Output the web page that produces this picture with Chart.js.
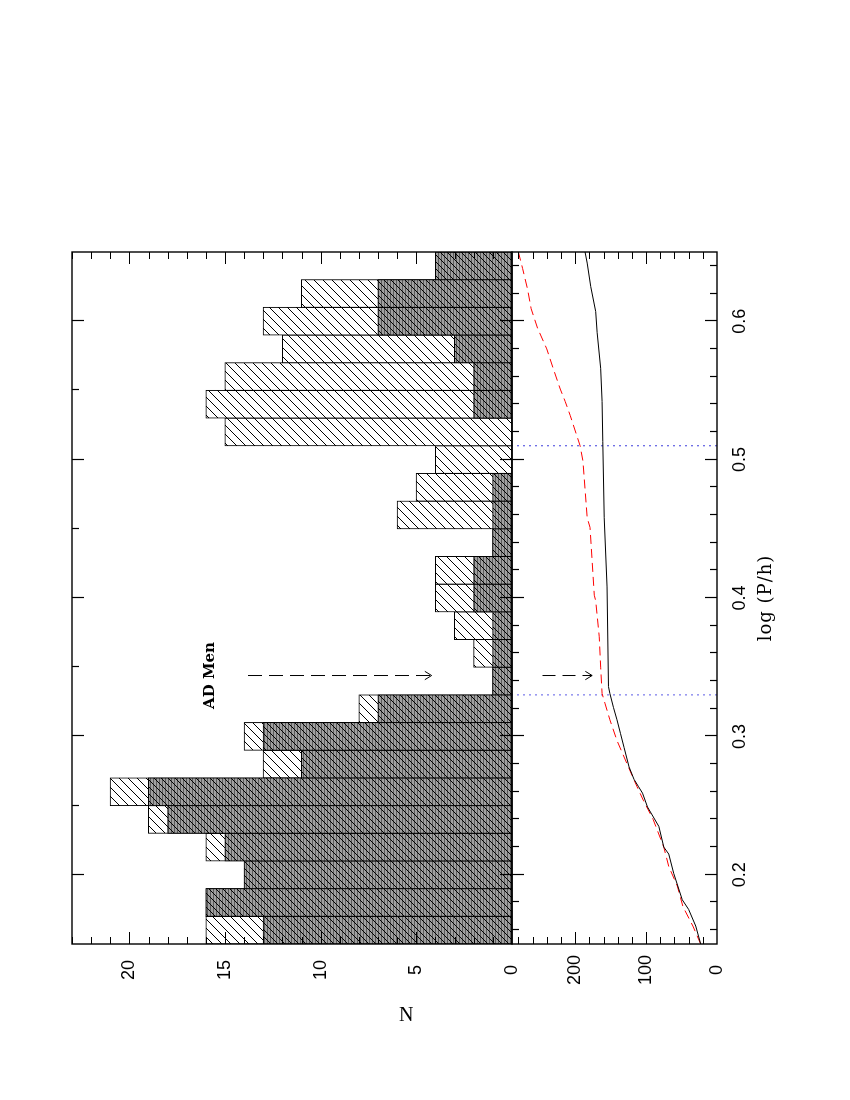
<!DOCTYPE html>
<html>
<head>
<meta charset="utf-8">
<script src="https://cdn.jsdelivr.net/npm/chart.js@4.4.1/dist/chart.umd.min.js"></script>
<style>
  html, body { margin: 0; padding: 0; background: #fff; overflow: hidden; width: 850px; height: 1100px; }
  /* the figure is drawn landscape and turned a quarter, as in the printed page */
  #page { position: absolute; left: 0; top: 0; width: 1100px; height: 850px;
          transform-origin: 0 0; transform: translate(0, 1100px) rotate(-90deg); }
  #xtitle { position: absolute; left: 156px; width: 692px; top: 754px; text-align: center;
            font: 18px "DejaVu Serif", serif; letter-spacing: 1px; color: #000; }
  #ntitle { position: absolute; left: 399px; top: 1004px; font: 20px/20px "Liberation Serif", serif; color: #000; }
</style>
</head>
<body>
<div id="page">
  <canvas id="fig" width="1100" height="850"></canvas>
  <div id="xtitle">log (P/h)</div>
</div>
<div id="ntitle">N</div>
<script>
// histogram: bins of 0.02 in log(P/h), centres
var binCentres = [0.16, 0.18, 0.20, 0.22, 0.24, 0.26, 0.28, 0.30, 0.32, 0.34, 0.36, 0.38, 0.40,
                  0.42, 0.44, 0.46, 0.48, 0.50, 0.52, 0.54, 0.56, 0.58, 0.60, 0.62, 0.64];
var nAll  = [16, 16, 14, 16, 19, 21, 13, 14, 8, 1, 2, 3, 4, 4, 1, 6, 5, 4, 15, 16, 15, 12, 13, 11, 4];
var nDark = [13, 16, 14, 15, 18, 19, 11, 13, 7, 1, 1, 1, 2, 2, 1, 1, 1, 0, 0, 2, 2, 3, 7, 7, 4];

// cumulative counts (lower panel)
var cumBlackP = [0.150, 0.163, 0.175, 0.182, 0.201, 0.215, 0.220, 0.235, 0.249, 0.259, 0.264, 0.269, 0.278,
                 0.292, 0.302, 0.312, 0.321, 0.331, 0.336, 0.408, 0.458, 0.513, 0.542, 0.566, 0.592,
                 0.607, 0.625, 0.642, 0.650];
var cumBlack  = [23, 30, 40, 49, 61, 68, 75, 82, 98, 105, 111, 117, 124,
                 131, 136, 141, 146, 151, 153, 155, 159, 161, 162, 164, 169,
                 171, 178, 183, 186];
var cumRedP = [0.150, 0.163, 0.177, 0.192, 0.206, 0.220, 0.240, 0.254, 0.264, 0.278, 0.297, 0.312, 0.324,
               0.331, 0.350, 0.372, 0.398, 0.402, 0.451, 0.458, 0.499, 0.510, 0.532, 0.542, 0.551,
               0.566, 0.580, 0.595, 0.609, 0.623, 0.638, 0.650];
var cumRed  = [23, 34, 48, 56, 68, 75, 90, 104, 113, 125, 141, 151, 158,
               162, 164, 166, 171, 173, 179, 183, 189, 193, 207, 214, 221,
               231, 240, 253, 262, 267, 274, 280];

var periodMarks = [0.33, 0.51];
var adMen = { p: 0.344, n: 15.8 };
var arrowUpperN = [13.8, 4.2];
var arrowLowerC = [246, 176];

var xTicks = [0.2, 0.3, 0.4, 0.5, 0.6];
var nTicks = [0, 5, 10, 15, 20];
var cTicks = [0, 100, 200];

Chart.defaults.font.family = '"Liberation Sans", sans-serif';
Chart.defaults.color = '#000';

function hatch(size, step, bg, stripes) {
    var c = document.createElement('canvas');
    c.width = c.height = size;
    var g = c.getContext('2d');
    g.fillStyle = bg; g.fillRect(0, 0, size, size);
    if (stripes) {
        g.fillStyle = '#5a5a5a';
        for (var y = 0; y < size; y += 3) g.fillRect(0, y, size, 1);
    }
    g.strokeStyle = '#000'; g.lineWidth = 1;
    g.beginPath();
    for (var k = -size; k <= 2 * size; k += step) { g.moveTo(k, size); g.lineTo(k + size, 0); }
    g.stroke();
    return g.createPattern(c, 'repeat');
}
var whiteHatch = hatch(9, 9, '#fff', false);
var darkHatch = hatch(21, 7, '#a0a0a0', true);

function pts(xs, ys) { return xs.map(function (x, i) { return { x: x, y: ys[i] }; }); }

var frameTicks = {
    id: 'frameTicks',
    afterDatasetsDraw: function (chart) {
        var ctx = chart.ctx, x = chart.scales.x, yN = chart.scales.yN, yC = chart.scales.yC;
        var L = x.left, R = x.right, T = yN.top, M = yN.bottom, B = yC.bottom;
        var i, px, len;
        ctx.save();
        ctx.strokeStyle = '#000';
        ctx.beginPath();
        function vt(p, y0, l) { ctx.moveTo(p, y0); ctx.lineTo(p, y0 + l); }
        function ht(p, x0, l) { ctx.moveTo(x0, p); ctx.lineTo(x0 + l, p); }
        // log P ticks on the histogram panel: every 0.05, long at 0.1
        for (i = 4; i <= 12; i++) {
            px = Math.round(x.getPixelForValue(i * 0.05)) + 0.5;
            vt(px, T, i % 2 === 0 ? 12 : 7);
            if (i % 2 === 0) vt(px, M, -12);
        }
        // lower panel: every 0.02
        for (i = 8; i <= 32; i++) {
            px = Math.round(x.getPixelForValue(i * 0.02)) + 0.5;
            len = i % 5 === 0 ? 12 : 7;
            vt(px, M, len); vt(px, B, -len);
        }
        for (i = 1; i <= 23; i++) {
            px = Math.round(yN.getPixelForValue(i)) + 0.5;
            len = i % 5 === 0 ? 12 : 7;
            ht(px, L, len); ht(px, R, -len);
        }
        for (i = 1; i <= 14; i++) {
            px = Math.round(yC.getPixelForValue(i * 20)) + 0.5;
            len = i % 5 === 0 ? 12 : 7;
            ht(px, L, len); ht(px, R, -len);
        }
        ctx.lineWidth = 1.2;
        ctx.stroke();
        ctx.lineWidth = 1.4;
        ctx.strokeRect(L, T, R - L, M - T);
        ctx.strokeRect(L, M, R - L, B - M);

        // open arrow heads on the shafts flagged arrowHead
        ctx.lineWidth = 1;
        chart.data.datasets.forEach(function (ds, di) {
            if (!ds.arrowHead) return;
            var el = chart.getDatasetMeta(di).data, a = el[el.length - 2], b = el[el.length - 1];
            var ang = Math.atan2(b.y - a.y, b.x - a.x);
            ctx.beginPath();
            ctx.moveTo(b.x - 8 * Math.cos(ang - 0.55), b.y - 8 * Math.sin(ang - 0.55));
            ctx.lineTo(b.x, b.y);
            ctx.lineTo(b.x - 8 * Math.cos(ang + 0.55), b.y - 8 * Math.sin(ang + 0.55));
            ctx.stroke();
        });

        ctx.fillStyle = '#000';
        ctx.font = 'bold 15px "DejaVu Serif", serif';
        ctx.textAlign = 'center'; ctx.textBaseline = 'middle';
        ctx.fillText('AD Men', x.getPixelForValue(adMen.p), yN.getPixelForValue(adMen.n));
        ctx.restore();
    }
};

var tickFont = { family: '"Liberation Sans", sans-serif', size: 18 };

new Chart(document.getElementById('fig'), {
    type: 'bar',
    data: {
        datasets: [
            { type: 'line', data: pts(cumBlackP, cumBlack), yAxisID: 'yC', borderColor: '#000', borderWidth: 1,
              pointRadius: 0, tension: 0, order: 0 },
            { type: 'line', data: pts(cumRedP, cumRed), yAxisID: 'yC', borderColor: '#ff0000', borderWidth: 1,
              borderDash: [9, 5], pointRadius: 0, tension: 0, order: 0 },
            { type: 'line', data: [{ x: periodMarks[0], y: 0 }, { x: periodMarks[0], y: 289 }], yAxisID: 'yC',
              borderColor: '#5a5ae6', borderWidth: 1, borderDash: [2, 4], pointRadius: 0, order: 0 },
            { type: 'line', data: [{ x: periodMarks[1], y: 0 }, { x: periodMarks[1], y: 289 }], yAxisID: 'yC',
              borderColor: '#3c3cdc', borderWidth: 1, borderDash: [2, 4], pointRadius: 0, order: 0 },
            { type: 'line', data: [{ x: adMen.p, y: arrowUpperN[0] }, { x: adMen.p, y: arrowUpperN[1] }], yAxisID: 'yN',
              borderColor: '#000', borderWidth: 1, borderDash: [14, 7], pointRadius: 0, order: 0, arrowHead: true },
            { type: 'line', data: [{ x: adMen.p, y: arrowLowerC[0] }, { x: adMen.p, y: arrowLowerC[1] }], yAxisID: 'yC',
              borderColor: '#000', borderWidth: 1, borderDash: [13, 7], pointRadius: 0, order: 0, arrowHead: true },
            { data: pts(binCentres, nDark), yAxisID: 'yN', backgroundColor: darkHatch, borderColor: '#000',
              borderWidth: 1, borderSkipped: false, inflateAmount: 0.5, order: 1 },
            { data: pts(binCentres, nAll), yAxisID: 'yN', backgroundColor: whiteHatch, borderColor: '#000',
              borderWidth: 1, borderSkipped: false, inflateAmount: 0.5, order: 2 }
        ]
    },
    options: {
        responsive: false, animation: false, devicePixelRatio: 1,
        layout: { padding: { left: 112, right: 252, top: 72, bottom: 63 } },
        datasets: { bar: { grouped: false, barPercentage: 1, categoryPercentage: 1 } },
        plugins: { legend: { display: false }, tooltip: { enabled: false } },
        scales: {
            x: {
                type: 'linear', position: 'bottom', min: 0.15, max: 0.65, offset: false,
                grid: { display: false, drawTicks: false, offset: false }, border: { display: false },
                afterBuildTicks: function (s) { s.ticks = xTicks.map(function (v) { return { value: v }; }); },
                afterFit: function (s) { s.height = 70; },
                ticks: { font: tickFont, color: '#000', padding: 12, maxRotation: 0, autoSkip: false,
                         callback: function (v) { return v.toFixed(1); } }
            },
            yN: {
                type: 'linear', position: 'left', stack: 'panels', stackWeight: 440, weight: 2, min: 0, max: 23,
                grid: { display: false, drawTicks: false }, border: { display: false },
                afterBuildTicks: function (s) { s.ticks = nTicks.map(function (v) { return { value: v }; }); },
                afterFit: function (s) { s.width = 44; },
                ticks: { font: tickFont, color: '#000', padding: 16, crossAlign: 'center', autoSkip: false }
            },
            yC: {
                type: 'linear', position: 'left', stack: 'panels', stackWeight: 205, weight: 1, min: 0, max: 289,
                grid: { display: false, drawTicks: false }, border: { display: false },
                afterBuildTicks: function (s) { s.ticks = cTicks.map(function (v) { return { value: v }; }); },
                afterFit: function (s) { s.width = 44; },
                ticks: { font: tickFont, color: '#000', padding: 11, crossAlign: 'center', autoSkip: false }
            }
        }
    },
    plugins: [frameTicks]
});
</script>
</body>
</html>
